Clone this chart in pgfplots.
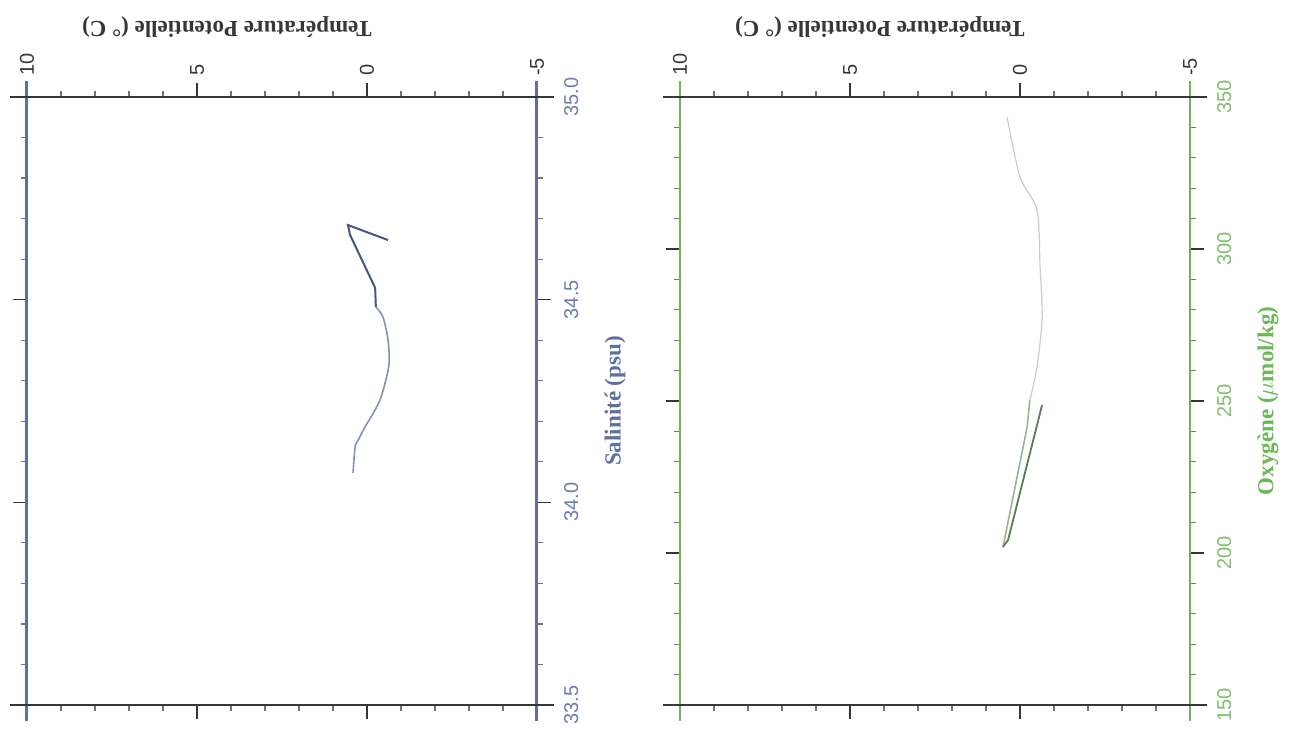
\documentclass[border=0pt]{standalone}
\usepackage{pgfplots}
\pgfplotsset{compat=1.18}
\usepackage{fontspec}
\setmainfont{Liberation Serif}
\newfontfamily\tickfont{Liberation Sans}
\definecolor{salc}{RGB}{95,112,160}
\definecolor{saltxt}{RGB}{110,125,170}
\definecolor{oxc}{RGB}{105,185,85}
\definecolor{oxtxt}{RGB}{125,190,105}
\definecolor{tc}{RGB}{55,55,55}
\definecolor{curveA}{RGB}{70,85,130}
\definecolor{curveB}{RGB}{135,145,180}
\definecolor{oxA}{RGB}{150,185,140}
\definecolor{oxB}{RGB}{95,120,90}

\pgfplotstableread{
T S
-0.62 34.647
0.56 34.684
0.50 34.660
-0.24 34.529
-0.26 34.482
}\salupper
\pgfplotstableread{
T S
-0.26 34.482
-0.47 34.457
-0.62 34.400
-0.65 34.344
-0.55 34.300
-0.38 34.252
-0.15 34.215
0.06 34.186
0.25 34.155
0.35 34.136
0.41 34.072
}\sallower
\pgfplotstableread{
T O
0.38 343.4
0.00 323.7
-0.50 312.8
-0.59 294.1
-0.65 277.6
-0.50 261.2
-0.29 250.3
}\oxupper
\pgfplotstableread{
T O
-0.29 250.3
-0.21 241.4
0.50 202.0
}\oxdown
\pgfplotstableread{
T O
0.50 202.0
0.35 204.3
-0.65 248.7
}\oxup

\pgfplotsset{
  panel/.style={
    scale only axis, width=255pt, height=304pt,
    xmin=-5, xmax=10, x dir=reverse,
    xtick={-5,0,5,10}, xticklabels={-5,0,5,10}, minor x tick num=4,
    xtick pos=both, ytick pos=both,
    xticklabel pos=upper, yticklabel pos=upper,
    tick align=outside,
    major tick length=7pt, minor tick length=3pt,
    every tick/.style={tc, line width=0.8pt},
    every minor tick/.style={tc!70, line width=0.6pt},
    axis line style={draw=none},
    xticklabel style={rotate=90, anchor=west, font=\tickfont\fontsize{10}{12}\selectfont, text=tc},
    every axis x label/.style={at={(axis description cs:0.392,1.115)}, rotate=180, anchor=center, font=\bfseries\fontsize{11.5}{13}\selectfont, text=tc},
    every axis y label/.style={at={(axis description cs:1.153,0.5)}, rotate=90, anchor=center, font=\bfseries\fontsize{11.5}{13}\selectfont},
    xlabel={Température Potentielle (\textdegree\ C)},
    clip=false,
  }
}

\begin{document}
\begin{tikzpicture}
\useasboundingbox (-13.5pt,-16.5pt) rectangle (637pt,352.5pt);
% Left panel: salinity
\begin{axis}[panel, at={(0pt,0pt)}, anchor=south west,
  ymin=33.5, ymax=35.0,
  ytick={33.5,34.0,34.5,35.0}, yticklabels={33.5,34.0,34.5,35.0}, minor y tick num=4,
  yticklabel style={xshift=3pt, rotate=90, anchor=north, font=\tickfont\fontsize{10}{12}\selectfont, text=saltxt},
  ylabel={Salinité (psu)}, ylabel style={text=salc},
]
\draw[salc, line width=1.5pt, shorten <=-8pt, shorten >=-8pt] (axis description cs:0,0) -- (axis description cs:0,1);
\draw[salc, line width=1.5pt, shorten <=-8pt, shorten >=-8pt] (axis description cs:1,0) -- (axis description cs:1,1);
\draw[tc, line width=1pt, shorten <=-8.5pt, shorten >=-8.5pt] (axis description cs:0,1) -- (axis description cs:1,1);
\draw[tc, line width=1pt, shorten <=-8.5pt, shorten >=-8.5pt] (axis description cs:0,0) -- (axis description cs:1,0);
\addplot[curveA, line width=1pt, no markers] table[x=T, y=S] {\salupper};
\addplot[curveB, line width=0.8pt, no markers, smooth] table[x=T, y=S] {\sallower};
\end{axis}
% Right panel: oxygen
\begin{axis}[panel, at={(326.5pt,0pt)}, anchor=south west,
  ymin=150, ymax=350,
  ytick={150,200,250,300,350}, yticklabels={150,200,250,300,350}, minor y tick num=4,
  yticklabel style={xshift=3pt, rotate=90, anchor=north, font=\tickfont\fontsize{10}{12}\selectfont, text=oxtxt},
  ylabel={Oxygène ($\mu$mol/kg)}, ylabel style={text=oxc},
]
\draw[oxc, line width=1.1pt, shorten <=-8pt, shorten >=-8pt] (axis description cs:0,0) -- (axis description cs:0,1);
\draw[oxc, line width=1.1pt, shorten <=-8pt, shorten >=-8pt] (axis description cs:1,0) -- (axis description cs:1,1);
\draw[tc, line width=1pt, shorten <=-8.5pt, shorten >=-8.5pt] (axis description cs:0,1) -- (axis description cs:1,1);
\draw[tc, line width=1pt, shorten <=-8.5pt, shorten >=-8.5pt] (axis description cs:0,0) -- (axis description cs:1,0);
\addplot[gray!40, line width=0.6pt, no markers, smooth] table[x=T, y=O] {\oxupper};
\addplot[oxA, line width=0.8pt, no markers] table[x=T, y=O] {\oxdown};
\addplot[oxB, line width=0.9pt, no markers] table[x=T, y=O] {\oxup};
\end{axis}
\end{tikzpicture}
\end{document}
